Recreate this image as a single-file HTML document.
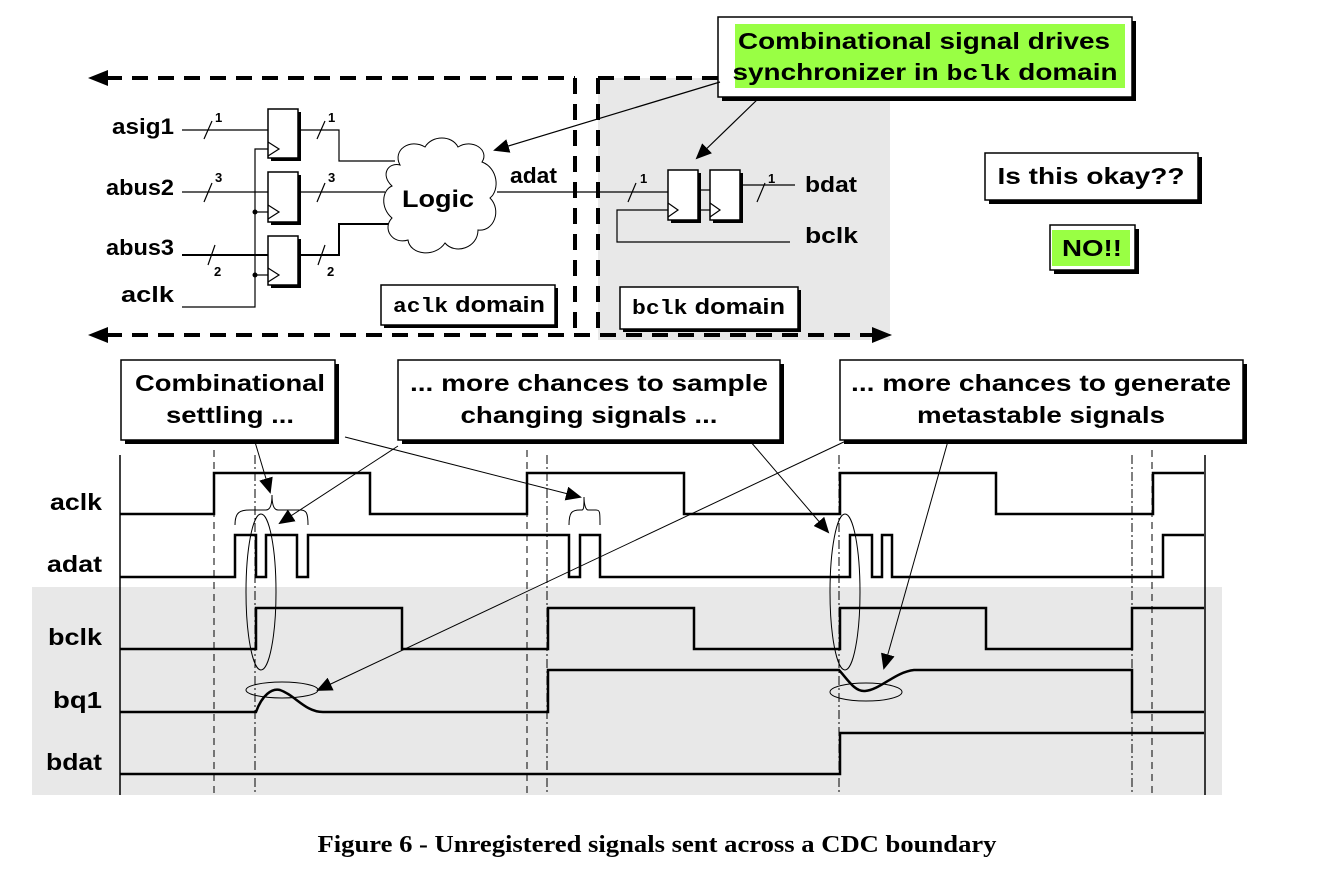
<!DOCTYPE html>
<html><head><meta charset="utf-8"><style>
body{margin:0;background:#fff}
svg text{font-family:"Liberation Sans",Arial,sans-serif;font-weight:bold}
</style></head><body>
<svg width="1323" height="864" viewBox="0 0 1323 864" xmlns="http://www.w3.org/2000/svg">
<defs>
<marker id="ah2" markerWidth="16" markerHeight="14" refX="14" refY="7" orient="auto" markerUnits="userSpaceOnUse"><path d="M0,0 L16,7 L0,14z" fill="#000"/></marker>
</defs>
<rect x="598" y="78" width="292" height="262" fill="#e8e8e8"/>
<rect x="32" y="587" width="1190" height="208" fill="#e8e8e8"/>

<g stroke="#000" stroke-width="4" stroke-dasharray="16,10" fill="none">
<line x1="106" y1="78" x2="575" y2="78"/>
<line x1="575" y1="78" x2="575" y2="335"/>
<line x1="598" y1="78" x2="598" y2="335"/>
<line x1="598" y1="78" x2="718" y2="78"/>
<line x1="106" y1="335" x2="874" y2="335"/>
</g>
<path d="M88,78 L108,70 L108,86z"/>
<path d="M88,335 L108,327 L108,343z"/>
<path d="M892,335 L872,327 L872,343z"/>

<g fill="#fff" stroke="#000" stroke-width="1.5">
<rect x="271" y="112" width="30" height="49" fill="#000" stroke="none"/>
<rect x="268" y="109" width="30" height="49"/>
<rect x="271" y="175" width="30" height="50" fill="#000" stroke="none"/>
<rect x="268" y="172" width="30" height="50"/>
<rect x="271" y="239" width="30" height="49" fill="#000" stroke="none"/>
<rect x="268" y="236" width="30" height="49"/>
</g>
<g fill="none" stroke="#000" stroke-width="1.2">
<path d="M268,142 L279,149 L268,156 M268,205 L279,212 L268,219 M268,268 L279,275 L268,282"/>
<line x1="182" y1="130" x2="268" y2="130"/>
<line x1="182" y1="192" x2="268" y2="192"/>
<line x1="182" y1="255" x2="268" y2="255" stroke-width="2"/>
<path d="M182,307 L255,307 L255,149 L268,149"/>
<line x1="255" y1="212" x2="268" y2="212"/>
<line x1="255" y1="275" x2="268" y2="275"/>
<path d="M298,130 L339,130 L339,161 L395,161"/>
<line x1="298" y1="192" x2="385" y2="192"/>
<path d="M298,255 L339,255 L339,224 L395,224" stroke-width="2"/>
<line x1="497" y1="192" x2="668" y2="192"/>
<path d="M204,139 L212,121 M317,139 L325,121 M204,202 L212,183 M317,202 L325,183 M208,265 L215,245 M318,265 L325,245"/>
</g>
<circle cx="255" cy="212" r="2.5"/><circle cx="255" cy="275" r="2.5"/>
<g font-size="13"><text x="215" y="122">1</text><text x="328" y="122">1</text><text x="215" y="182">3</text><text x="328" y="182">3</text><text x="214" y="276">2</text><text x="327" y="276">2</text></g>
<g font-size="22"><text x="112" y="134" textLength="62" lengthAdjust="spacingAndGlyphs">asig1</text><text x="106" y="195" textLength="68" lengthAdjust="spacingAndGlyphs">abus2</text><text x="106" y="255" textLength="68" lengthAdjust="spacingAndGlyphs">abus3</text><text x="121" y="302" textLength="53" lengthAdjust="spacingAndGlyphs">aclk</text></g>
<path d="M400,165 C392,150 410,138 425,147 C432,135 452,135 458,147 C472,138 490,150 482,162 C498,168 500,190 490,198 C502,210 494,232 478,230 C478,248 455,255 445,243 C435,258 410,255 408,240 C392,245 382,228 392,218 C380,208 382,190 392,186 C380,175 388,162 400,165z" fill="#fff" stroke="#000" stroke-width="1"/>
<text x="402" y="207" font-size="24" textLength="72" lengthAdjust="spacingAndGlyphs">Logic</text>
<text x="510" y="183" font-size="22" textLength="47" lengthAdjust="spacingAndGlyphs">adat</text>

<g fill="#fff" stroke="#000" stroke-width="1.5">
<rect x="671" y="173" width="30" height="50" fill="#000" stroke="none"/>
<rect x="668" y="170" width="30" height="50"/>
<rect x="713" y="173" width="30" height="50" fill="#000" stroke="none"/>
<rect x="710" y="170" width="30" height="50"/>
</g>
<g fill="none" stroke="#000" stroke-width="1.2">
<path d="M668,203 L678,210 L668,217 M710,203 L720,210 L710,217"/>
<line x1="698" y1="190" x2="710" y2="190"/>
<line x1="740" y1="185" x2="795" y2="185"/>
<path d="M790,242 L617,242 L617,210 L668,210"/>
<line x1="700" y1="210" x2="710" y2="210"/>
<path d="M628,202 L636,183 M757,202 L765,183"/>
</g>
<g font-size="13"><text x="640" y="183">1</text><text x="768" y="183">1</text></g>
<g font-size="22"><text x="805" y="192" textLength="52" lengthAdjust="spacingAndGlyphs">bdat</text><text x="805" y="243" textLength="53" lengthAdjust="spacingAndGlyphs">bclk</text></g>

<rect x="384" y="288" width="174" height="40" fill="#000"/>
<rect x="381" y="285" width="174" height="40" fill="#fff" stroke="#000" stroke-width="1.5"/>
<text x="393" y="312" font-size="22" textLength="152" lengthAdjust="spacingAndGlyphs"><tspan font-family="Liberation Mono" font-size="20">aclk</tspan> domain</text>
<rect x="623" y="290" width="178" height="42" fill="#000"/>
<rect x="620" y="287" width="178" height="42" fill="#fff" stroke="#000" stroke-width="1.5"/>
<text x="632" y="314" font-size="22" textLength="153" lengthAdjust="spacingAndGlyphs"><tspan font-family="Liberation Mono" font-size="20">bclk</tspan> domain</text>

<rect x="722" y="21" width="414" height="80" fill="#000"/>
<rect x="718" y="17" width="414" height="80" fill="#fff" stroke="#000" stroke-width="1.5"/>
<rect x="735" y="24" width="390" height="64" fill="#99ff44"/>
<text x="924" y="49" font-size="23" text-anchor="middle" textLength="372" lengthAdjust="spacingAndGlyphs">Combinational signal drives</text>
<text x="925" y="80" font-size="23" text-anchor="middle" textLength="385" lengthAdjust="spacingAndGlyphs">synchronizer in <tspan font-family="Liberation Mono" font-size="22">bclk</tspan> domain</text>
<g stroke="#000" stroke-width="1.2" fill="none">
<line x1="720" y1="82" x2="495" y2="150" marker-end="url(#ah2)"/>
<line x1="760" y1="97" x2="697" y2="158" marker-end="url(#ah2)"/>
</g>
<rect x="989" y="157" width="213" height="47" fill="#000"/>
<rect x="985" y="153" width="213" height="47" fill="#fff" stroke="#000" stroke-width="1.5"/>
<text x="1091" y="184" font-size="23" text-anchor="middle" textLength="187" lengthAdjust="spacingAndGlyphs">Is this okay??</text>
<rect x="1054" y="229" width="85" height="45" fill="#000"/>
<rect x="1050" y="225" width="85" height="45" fill="#fff" stroke="#000" stroke-width="1.5"/>
<rect x="1052" y="230" width="78" height="36" fill="#99ff44"/>
<text x="1092" y="256" font-size="23" text-anchor="middle" textLength="60" lengthAdjust="spacingAndGlyphs">NO!!</text>

<g stroke="#000" fill="none">
<line x1="120" y1="455" x2="120" y2="795" stroke-width="1.5"/>
<line x1="1205" y1="455" x2="1205" y2="795" stroke-width="1.5"/>
<g stroke-width="1" stroke-dasharray="7,5"><line x1="214" y1="450" x2="214" y2="795"/><line x1="527" y1="450" x2="527" y2="795"/><line x1="1152" y1="450" x2="1152" y2="795"/></g>
<g stroke-width="1" stroke-dasharray="9,3,2,3"><line x1="255" y1="455" x2="255" y2="795"/><line x1="547" y1="455" x2="547" y2="795"/><line x1="839" y1="455" x2="839" y2="795"/><line x1="1132" y1="455" x2="1132" y2="795"/></g>
</g>
<g stroke="#000" stroke-width="2.5" fill="none">
<path d="M120,514 H214 V473 H370 V514 H527 V473 H684 V514 H840 V473 H996 V514 H1153 V473 H1204"/>
<path d="M120,577 H235 V535 H256 V577 H266 V535 H297 V577 H308 V535 H569 V577 H580 V535 H600 V577 H850 V535 H872 V577 H882 V535 H892 V577 H1163 V535 H1204"/>
<path d="M120,649 H256 V608 H402 V649 H548 V608 H694 V649 H840 V608 H986 V649 H1132 V608 H1204"/>
<path d="M120,712 H256 C262,695 272,688 280,690 C295,695 305,712 323,712 H548 V670 H839 C848,680 855,692 865,691 C880,690 895,672 914,670 H1132 V712 H1204"/>
<path d="M120,774 H840 V733 H1204"/>
</g>
<g stroke="#000" stroke-width="1" fill="none">
<ellipse cx="261" cy="592" rx="15" ry="78"/>
<ellipse cx="282" cy="690" rx="36" ry="8"/>
<ellipse cx="845" cy="592" rx="15" ry="78"/>
<ellipse cx="866" cy="692" rx="36" ry="9"/>
<path d="M235,525 C235,512 240,510 250,510 H266 C270,510 272,505 272,495 C272,505 274,510 278,510 H300 C306,510 308,512 308,525"/>
<path d="M569,525 C569,512 572,510 580,510 H582 C584,510 584,505 584,497 C584,505 586,510 588,510 H596 C600,510 600,512 600,525"/>
</g>

<rect x="125" y="364" width="214" height="80" fill="#000"/>
<rect x="121" y="360" width="214" height="80" fill="#fff" stroke="#000" stroke-width="1.5"/>
<text x="230" y="391" font-size="23" text-anchor="middle" textLength="190" lengthAdjust="spacingAndGlyphs">Combinational</text>
<text x="230" y="423" font-size="23" text-anchor="middle" textLength="128" lengthAdjust="spacingAndGlyphs">settling ...</text>
<rect x="402" y="364" width="382" height="80" fill="#000"/>
<rect x="398" y="360" width="382" height="80" fill="#fff" stroke="#000" stroke-width="1.5"/>
<text x="589" y="391" font-size="23" text-anchor="middle" textLength="358" lengthAdjust="spacingAndGlyphs">... more chances to sample</text>
<text x="589" y="423" font-size="23" text-anchor="middle" textLength="257" lengthAdjust="spacingAndGlyphs">changing signals ...</text>
<rect x="844" y="364" width="403" height="80" fill="#000"/>
<rect x="840" y="360" width="403" height="80" fill="#fff" stroke="#000" stroke-width="1.5"/>
<text x="1041" y="391" font-size="23" text-anchor="middle" textLength="380" lengthAdjust="spacingAndGlyphs">... more chances to generate</text>
<text x="1041" y="423" font-size="23" text-anchor="middle" textLength="248" lengthAdjust="spacingAndGlyphs">metastable signals</text>
<g stroke="#000" stroke-width="1" fill="none">
<line x1="255" y1="442" x2="270" y2="492" marker-end="url(#ah2)"/>
<line x1="398" y1="446" x2="280" y2="523" marker-end="url(#ah2)"/>
<line x1="345" y1="437" x2="580" y2="497" marker-end="url(#ah2)"/>
<line x1="750" y1="441" x2="828" y2="532" marker-end="url(#ah2)"/>
<line x1="948" y1="441" x2="884" y2="668" marker-end="url(#ah2)"/>
<line x1="848" y1="440" x2="318" y2="690" marker-end="url(#ah2)"/>
</g>
<g font-size="23"><text x="50" y="510" textLength="52" lengthAdjust="spacingAndGlyphs">aclk</text><text x="47" y="572" textLength="55" lengthAdjust="spacingAndGlyphs">adat</text><text x="48" y="645" textLength="54" lengthAdjust="spacingAndGlyphs">bclk</text><text x="53" y="708" textLength="49" lengthAdjust="spacingAndGlyphs">bq1</text><text x="46" y="770" textLength="56" lengthAdjust="spacingAndGlyphs">bdat</text></g>

<text x="657" y="852" font-size="24" text-anchor="middle" textLength="679" lengthAdjust="spacingAndGlyphs" style="font-family:'Liberation Serif',serif">Figure 6 - Unregistered signals sent across a CDC boundary</text>
</svg>
</body></html>
